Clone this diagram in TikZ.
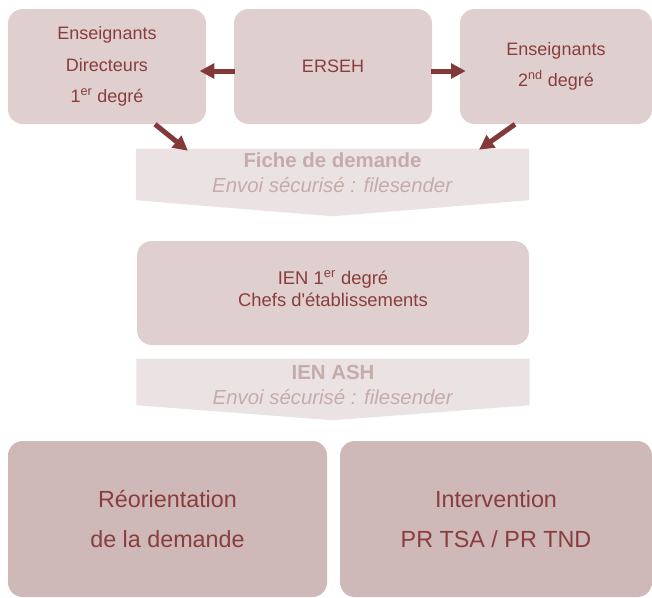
\documentclass[tikz,border=0pt]{standalone}
\usepackage{fontspec}
\setmainfont{Liberation Sans}
\usetikzlibrary{arrows.meta,calc,backgrounds}
\definecolor{rosebox}{HTML}{E0CFCF}
\definecolor{rosedeep}{HTML}{CFB8B8}
\definecolor{veil}{HTML}{EBE3E3}
\definecolor{veilink}{HTML}{C6ABAB}
\definecolor{wine}{HTML}{8A3D3D}
\definecolor{winearrow}{HTML}{843939}
\tikzset{
  box/.style={fill=#1,rounded corners=11pt,align=center,text=wine,inner sep=0pt},
  box/.default=rosebox,
  flow/.style={-{Triangle[length=11pt,width=11pt]},line width=3.75pt,draw=winearrow},
  veilbox/.style={minimum width=294.5pt,inner sep=0pt},
  veiltext/.style={align=center,text=veilink,inner sep=0pt,
    font=\fontsize{15.3}{18.75}\selectfont},
  veilfill/.style={fill=veil},
}

\begin{document}
\begin{tikzpicture}[x=0.75pt,y=-0.75pt]
  \useasboundingbox (0,0) rectangle (652,597);
  % top row
  \node[box,minimum width=148.5pt,minimum height=86.25pt,font=\fontsize{13.5}{23.6}\selectfont]
    (ens1) at (107,66.5) {Enseignants\\Directeurs\\1\textsuperscript{er} degré};
  \node[box,minimum width=148.5pt,minimum height=86.25pt,font=\fontsize{13.5}{23.6}\selectfont]
    (erseh) at (333,66.5) {ERSEH};
  \node[box,minimum width=144pt,minimum height=86.25pt,font=\fontsize{13.5}{23.6}\selectfont]
    (ens2) at (556,66.5) {Enseignants\\2\textsuperscript{nd} degré};
  % banners
  \node[veilbox,minimum height=38.25pt] (fiche) at (332.5,174.5) {};
  \node[veiltext] (fichetext) at ([yshift=1pt]fiche.center)
    {\textbf{Fiche de demande}\\\textit{Envoi sécurisé : filesender}};
  \node[box,minimum width=294pt,minimum height=78pt] (ien) at (333,293) {};
  \node[align=center,text=wine,inner sep=0pt,font=\fontsize{13.8}{16.5}\selectfont]
    (ientext) at ([yshift=3pt]ien.center)
    {IEN 1\textsuperscript{er} degré\\Chefs d\textquotesingle établissements};
  \node[veilbox,minimum height=34.5pt] (ash) at (333,382) {};
  \node[veiltext] (ashtext) at ([yshift=-2.25pt]ash.center)
    {\textbf{IEN ASH}\\\textit{Envoi sécurisé : filesender}};
  \begin{scope}[on background layer]
    \fill[veilfill] (fiche.north west) -- (fiche.north east) -- (fiche.south east)
      -- ($(fiche.south)+(0,16)$) -- (fiche.south west) -- cycle;
    \fill[veilfill] (ash.north west) -- (ash.north east) -- (ash.south east)
      -- ($(ash.south)+(0,15)$) -- (ash.south west) -- cycle;
  \end{scope}
  % bottom row
  \node[box=rosedeep,minimum width=239.25pt,minimum height=117pt,font=\fontsize{17.5}{30}\selectfont]
    (reor) at (167.5,519) {Réorientation\\de la demande};
  \node[box=rosedeep,minimum width=234pt,minimum height=117pt,font=\fontsize{17.5}{30}\selectfont]
    (interv) at (496,519) {Intervention\\PR TSA / PR TND};
  % arrows
  \draw[flow,shorten >=-5pt] ($(erseh.west)+(1,4.5)$) -- ($(ens1.east)+(0,4.5)$);
  \draw[flow,shorten >=-4.5pt] ($(erseh.east)+(-1,4.5)$) -- ($(ens2.west)+(0,4.5)$);
  \draw[flow] ($(ens1.south)+(48,0)$) -- ($(fiche.north west)+(52,2)$);
  \draw[flow] ($(ens2.south)+(-41,0)$) -- ($(fiche.north east)+(-50,1)$);
\end{tikzpicture}
\end{document}
